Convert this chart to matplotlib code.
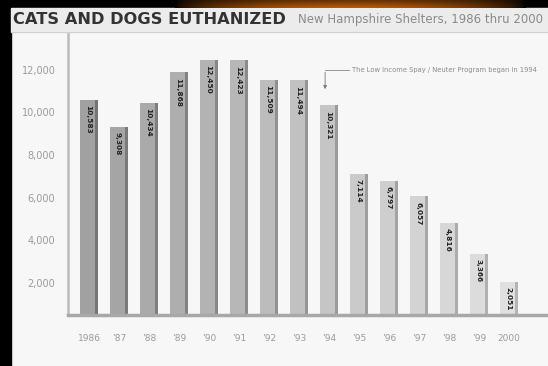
import numpy as np
import matplotlib.pyplot as plt
from matplotlib.patches import Rectangle

# data
years = ["1986", "’87", "’88", "’89", "’90", "’91", "’92", "’93", "’94",
         "’95", "’96", "’97", "’98", "’99", "2000"]
euthanized = [10583, 9308, 10434, 11868, 12450, 12423, 11509, 11494, 10321,
              7114, 6797, 6057, 4816, 3366, 2051]
y_ticks = [2000, 4000, 6000, 8000, 10000, 12000]
program_year = "’94"

paper = "#f7f7f7"

fig = plt.figure(figsize=(5.48, 3.66), dpi=100)
fig.patch.set_facecolor(paper)

# black frame of the photographed slide
fig.patches.append(Rectangle((0, 0), 11 / 548, 1, transform=fig.transFigure,
                             color="black", zorder=0))
fig.patches.append(Rectangle((0, 358 / 366), 1, 8 / 366, transform=fig.transFigure,
                             color="black", zorder=0))
# header band
fig.patches.append(Rectangle((11 / 548, 334 / 366), 1, 24 / 366, transform=fig.transFigure,
                             color="#ececec", zorder=0))
fig.add_artist(plt.Line2D([11 / 548, 1], [334 / 366, 334 / 366], transform=fig.transFigure,
                          color="#d0d0d0", lw=0.8))

# orange glow at the top
glow = fig.add_axes([175 / 548, 358 / 366, 350 / 548, 8 / 366], zorder=10)
g = np.sin(np.linspace(0, np.pi, 200)) ** 0.6
rgb = np.zeros((10, 200, 3))
rgb[:, :, 0] = 0.72 * g
rgb[:, :, 1] = 0.36 * g
rgb[:, :, 2] = 0.05 * g
fade = np.linspace(0.55, 1, 10)[:, None, None]
glow.imshow(rgb * fade, aspect="auto", interpolation="bilinear")
glow.axis("off")

fig.text(13 / 548, 346 / 366, "CATS AND DOGS EUTHANIZED", fontsize=11.7,
         fontweight="heavy", color="#333333", va="center", ha="left")
fig.text(298 / 548, 346 / 366, "New Hampshire Shelters, 1986 thru 2000", fontsize=8.5,
         color="#8a8a8a", va="center", ha="left")

ax = fig.add_axes([68 / 548, 51 / 366, 480 / 548, 282 / 366])
ax.set_facecolor(paper)

x = np.arange(len(years))
grays = np.linspace(0.63, 0.88, len(years))
face = [(g, g, g) for g in grays]
shade = [(g - 0.17, g - 0.17, g - 0.17) for g in grays]
w = 0.6
ax.bar(x, euthanized, width=w, color=face, zorder=2)
ax.bar(x + w / 2 - 0.05, euthanized, width=0.1, color=shade, zorder=3)

for xi, v in zip(x, euthanized):
    ax.text(xi - 0.03, v - 250, f"{v:,}", rotation=-90, ha="center", va="top",
            fontsize=5.3, fontweight="bold", color="#222222", zorder=4)

ax.set_xlim(-0.7, 15.3)
ax.set_ylim(505, 13710)
ax.set_xticks(x)
ax.set_xticklabels(years, fontsize=6.5, color="#9a9a9a")
ax.set_yticks(y_ticks)
ax.set_yticklabels([f"{t:,}" for t in y_ticks], fontsize=7, color="#9a9a9a")
ax.tick_params(length=0)
ax.tick_params(axis="x", pad=14)
ax.tick_params(axis="y", pad=9)

for side in ["top", "right"]:
    ax.spines[side].set_visible(False)
ax.spines["left"].set_color("#bcbcbc")
ax.spines["left"].set_linewidth(1.8)
ax.spines["bottom"].set_color("#a8a8a8")
ax.spines["bottom"].set_linewidth(2.5)
ax.spines["bottom"].set_zorder(5)

# annotation for the spay / neuter program
i94 = years.index(program_year)
note_y = 12000
ax.annotate("", xy=(i94 - 0.13, euthanized[i94] + 630),
            xytext=(i94 - 0.13, note_y),
            arrowprops=dict(arrowstyle="-|>", color="#777777", lw=0.6,
                            mutation_scale=5))
ax.plot([i94 - 0.13, i94 + 0.65], [note_y, note_y], color="#888888", lw=0.6)
ax.text(i94 + 0.75, note_y, "The Low Income Spay / Neuter Program began in 1994",
        fontsize=4.9, color="#8a8a8a", va="center", ha="left", clip_on=False)

fig.savefig("out.png", dpi=100, facecolor=fig.get_facecolor())
